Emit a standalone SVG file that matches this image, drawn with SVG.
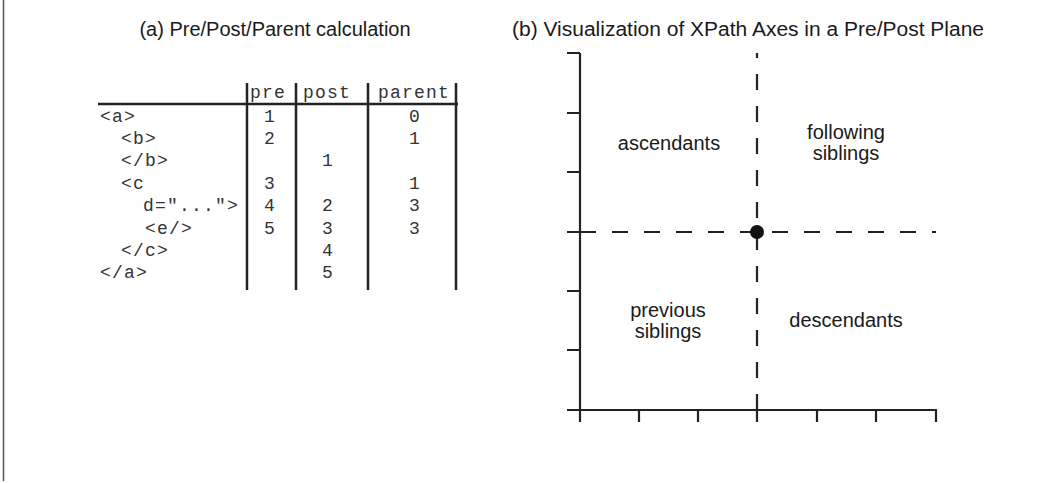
<svg xmlns="http://www.w3.org/2000/svg" width="1051" height="483" viewBox="0 0 1051 483">
  <style>
    .title { font-family: "Liberation Sans", Arial, sans-serif; font-size: 20px; fill: #1a1a1a; }
    .label { font-family: "Liberation Sans", Arial, sans-serif; font-size: 20px; fill: #1a1a1a; text-anchor: middle; }
    .mono { font-family: "Liberation Mono", "Courier New", monospace; font-size: 18px; letter-spacing: 1.2px; fill: #333; }
    .num { text-anchor: middle; }
    .rule { stroke: #222; stroke-width: 2.5; fill: none; }
    .axis { stroke: #222; stroke-width: 2.2; fill: none; }
    .dash { stroke: #222; stroke-width: 2.2; fill: none; stroke-dasharray: 16 16; }
  </style>

  <rect width="1051" height="483" fill="#ffffff"/>
  <!-- page edge -->
  <line x1="3.5" y1="0" x2="3.5" y2="481" stroke="#555" stroke-width="1.5"/>

  <!-- panel titles -->
  <text class="title" x="275" y="36" text-anchor="middle">(a) Pre/Post/Parent calculation</text>
  <text class="title" x="512" y="36" textLength="472" lengthAdjust="spacingAndGlyphs">(b) Visualization of XPath Axes in a Pre/Post Plane</text>

  <!-- (a) pre/post/parent table -->
  <g id="table">
    <line class="rule" x1="98" y1="104" x2="458" y2="104"/>
    <line class="rule" x1="247" y1="83" x2="247" y2="290"/>
    <line class="rule" x1="296" y1="83" x2="296" y2="290"/>
    <line class="rule" x1="368" y1="83" x2="368" y2="290"/>
    <line class="rule" x1="456" y1="83" x2="456" y2="290"/>

    <g class="mono">
      <text x="250" y="98">pre</text>
      <text x="303" y="98">post</text>
      <text x="378" y="98">parent</text>

      <text x="100" y="122">&lt;a&gt;</text>
      <text x="121" y="144">&lt;b&gt;</text>
      <text x="121" y="166">&lt;/b&gt;</text>
      <text x="121" y="189">&lt;c</text>
      <text x="143" y="211">d="..."&gt;</text>
      <text x="145" y="234">&lt;e/&gt;</text>
      <text x="121" y="256">&lt;/c&gt;</text>
      <text x="100" y="278">&lt;/a&gt;</text>

      <g class="num">
        <text x="270" y="122">1</text>
        <text x="415" y="122">0</text>
        <text x="270" y="144">2</text>
        <text x="415" y="144">1</text>
        <text x="328" y="166">1</text>
        <text x="270" y="189">3</text>
        <text x="415" y="189">1</text>
        <text x="270" y="211">4</text>
        <text x="328" y="211">2</text>
        <text x="415" y="211">3</text>
        <text x="270" y="234">5</text>
        <text x="328" y="234">3</text>
        <text x="415" y="234">3</text>
        <text x="328" y="256">4</text>
        <text x="328" y="278">5</text>
      </g>
    </g>
  </g>

  <!-- (b) pre/post plane -->
  <g id="plane">
    <!-- axes with ticks -->
    <path class="axis" d="M580 53 V422 M567 410 H936 V422"/>
    <path class="axis" d="M567 53 H580 M567 113 H580 M567 172 H580 M567 232 H580 M567 291 H580 M567 350 H580"/>
    <path class="axis" d="M639 410 V422 M698 410 V422 M757 410 V422 M817 410 V422 M876 410 V422"/>
  </g>

  <g id="connectors">
    <line class="dash" x1="580" y1="232" x2="936" y2="232"/>
    <line class="dash" x1="757" y1="410" x2="757" y2="53"/>
  </g>

  <g id="context-node">
    <circle cx="757" cy="232" r="7" fill="#111"/>
  </g>

  <g id="ascendants">
    <text class="label" x="669" y="150">ascendants</text>
  </g>
  <g id="following-siblings">
    <text class="label" x="846" y="139">following</text>
    <text class="label" x="846" y="160">siblings</text>
  </g>
  <g id="previous-siblings">
    <text class="label" x="668" y="317">previous</text>
    <text class="label" x="668" y="338">siblings</text>
  </g>
  <g id="descendants">
    <text class="label" x="846" y="327">descendants</text>
  </g>
</svg>
